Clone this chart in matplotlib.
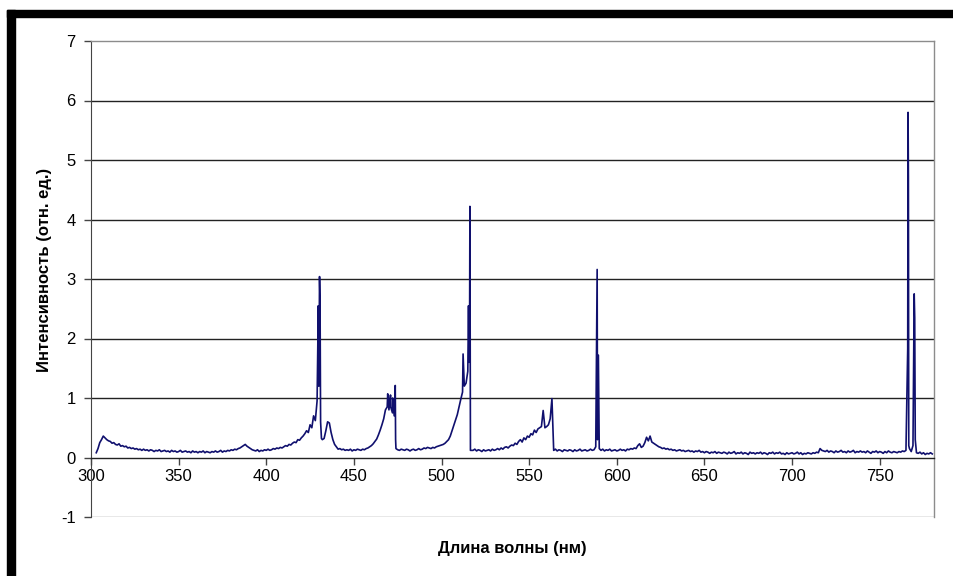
import matplotlib
matplotlib.use("Agg")
import matplotlib.pyplot as plt
import numpy as np
from matplotlib.patches import Rectangle

# Spectrum, one value per nm starting at 303 nm.
GRID_START = 303
grid_intensity = [
    0.08, 0.15, 0.25, 0.30, 0.36, 0.33, 0.30, 0.28, 0.27, 0.24,  # 303
    0.25, 0.22, 0.21, 0.23, 0.19, 0.20, 0.18, 0.19, 0.16, 0.17,  # 313
    0.15, 0.16, 0.14, 0.15, 0.13, 0.14, 0.12, 0.14, 0.12, 0.13,  # 323
    0.11, 0.13, 0.12, 0.10, 0.12, 0.11, 0.13, 0.10, 0.11, 0.12,  # 333
    0.10, 0.11, 0.09, 0.12, 0.10, 0.11, 0.09, 0.10, 0.12, 0.09,  # 343
    0.10, 0.11, 0.09, 0.10, 0.08, 0.11, 0.09, 0.10, 0.08, 0.10,  # 353
    0.09, 0.11, 0.08, 0.10, 0.09, 0.08, 0.10, 0.09, 0.11, 0.09,  # 363
    0.10, 0.12, 0.09, 0.11, 0.10, 0.12, 0.11, 0.13, 0.12, 0.14,  # 373
    0.13, 0.15, 0.16, 0.18, 0.20, 0.22, 0.19, 0.17, 0.15, 0.13,  # 383
    0.12, 0.11, 0.13, 0.10, 0.12, 0.11, 0.13, 0.12, 0.14, 0.12,  # 393
    0.13, 0.15, 0.14, 0.16, 0.15, 0.17, 0.16, 0.18, 0.20, 0.19,  # 403
    0.22, 0.21, 0.24, 0.26, 0.25, 0.30, 0.29, 0.33, 0.36, 0.40,  # 413
    0.45, 0.42, 0.55, 0.50, 0.70, 0.62, 0.95, 1.20, 0.60, 0.30,  # 423
    0.32, 0.45, 0.60, 0.58, 0.42, 0.30, 0.22, 0.18, 0.14, 0.15,  # 433
    0.13, 0.14, 0.12, 0.13, 0.12, 0.14, 0.11, 0.13, 0.12, 0.14,  # 443
    0.13, 0.12, 0.14, 0.13, 0.15, 0.16, 0.18, 0.20, 0.23, 0.27,  # 453
    0.31, 0.38, 0.46, 0.55, 0.65, 0.80, 0.85, 0.80, 0.85, 0.75,  # 463
    0.70, 0.15, 0.13, 0.12, 0.14, 0.13, 0.12, 0.14, 0.13, 0.11,  # 473
    0.13, 0.14, 0.12, 0.13, 0.15, 0.13, 0.14, 0.16, 0.15, 0.17,  # 483
    0.16, 0.15, 0.17, 0.16, 0.18, 0.19, 0.20, 0.21, 0.22, 0.24,  # 493
    0.27, 0.30, 0.36, 0.45, 0.54, 0.63, 0.72, 0.85, 0.98, 1.10,  # 503
    1.20, 1.25, 1.45, 2.00, 0.12, 0.12, 0.14, 0.11, 0.13, 0.12,  # 513
    0.10, 0.13, 0.11, 0.12, 0.13, 0.11, 0.14, 0.12, 0.13, 0.15,  # 523
    0.13, 0.16, 0.14, 0.17, 0.18, 0.16, 0.19, 0.21, 0.20, 0.24,  # 533
    0.22, 0.27, 0.30, 0.26, 0.33, 0.30, 0.36, 0.34, 0.40, 0.38,  # 543
    0.46, 0.42, 0.48, 0.50, 0.52, 0.79, 0.50, 0.52, 0.55, 0.65,  # 553
    0.99, 0.12, 0.14, 0.11, 0.13, 0.12, 0.10, 0.13, 0.12, 0.11,  # 563
    0.13, 0.12, 0.10, 0.13, 0.11, 0.12, 0.14, 0.11, 0.12, 0.13,  # 573
    0.11, 0.12, 0.14, 0.12, 0.13, 0.18, 0.30, 0.15, 0.12, 0.14,  # 583
    0.11, 0.13, 0.12, 0.14, 0.11, 0.12, 0.13, 0.11, 0.12, 0.14,  # 593
    0.12, 0.13, 0.11, 0.14, 0.13, 0.15, 0.14, 0.16, 0.15, 0.20,  # 603
    0.23, 0.17, 0.19, 0.25, 0.34, 0.28, 0.36, 0.26, 0.24, 0.22,  # 613
    0.20, 0.18, 0.17, 0.15, 0.16, 0.14, 0.15, 0.13, 0.14, 0.12,  # 623
    0.13, 0.11, 0.12, 0.13, 0.11, 0.12, 0.10, 0.11, 0.12, 0.10,  # 633
    0.11, 0.09, 0.11, 0.10, 0.12, 0.09, 0.10, 0.08, 0.10, 0.09,  # 643
    0.07, 0.09, 0.08, 0.10, 0.07, 0.09, 0.08, 0.07, 0.09, 0.08,  # 653
    0.06, 0.09, 0.07, 0.08, 0.10, 0.06, 0.08, 0.07, 0.09, 0.06,  # 663
    0.08, 0.07, 0.05, 0.09, 0.07, 0.08, 0.06, 0.08, 0.07, 0.09,  # 673
    0.06, 0.08, 0.07, 0.05, 0.08, 0.07, 0.09, 0.06, 0.08, 0.07,  # 683
    0.09, 0.06, 0.07, 0.05, 0.08, 0.06, 0.07, 0.08, 0.06, 0.07,  # 693
    0.09, 0.06, 0.08, 0.05, 0.07, 0.06, 0.08, 0.07, 0.06, 0.08,  # 703
    0.07, 0.09, 0.08, 0.15, 0.12, 0.11, 0.10, 0.12, 0.09, 0.11,  # 713
    0.10, 0.08, 0.11, 0.09, 0.10, 0.12, 0.09, 0.10, 0.08, 0.11,  # 723
    0.09, 0.10, 0.12, 0.08, 0.10, 0.09, 0.11, 0.09, 0.10, 0.08,  # 733
    0.11, 0.09, 0.07, 0.10, 0.09, 0.11, 0.08, 0.10, 0.09, 0.07,  # 743
    0.10, 0.08, 0.11, 0.09, 0.08, 0.10, 0.09, 0.08, 0.10, 0.09,  # 753
    0.11, 0.10, 0.12, 1.83, 0.15, 0.10, 0.20, 2.35, 0.08, 0.07,  # 763
    0.09, 0.06, 0.08, 0.05, 0.07, 0.06, 0.08, 0.06,              # 773
]

# Sharp emission lines between the 1 nm samples.
line_wl = [429.3, 429.7, 430.4, 430.7, 431.5,
           469.3, 470.9, 472.1, 473.6, 473.8,
           512.3, 515.4, 515.7, 516.2, 516.5,
           588.8, 589.5,
           766.2, 766.4, 766.6,
           769.7, 770.3]
line_int = [1.60, 2.55, 3.04, 2.60, 0.32,
            1.07, 1.05, 1.00, 1.21, 0.30,
            1.74, 2.55, 1.60, 4.22, 0.12,
            3.16, 1.72,
            5.80, 4.70, 0.20,
            2.75, 0.30]

x_ticks = [300, 350, 400, 450, 500, 550, 600, 650, 700, 750]
y_ticks = [-1, 0, 1, 2, 3, 4, 5, 6, 7]

wl = np.concatenate([GRID_START + np.arange(len(grid_intensity)), line_wl])
inten = np.concatenate([grid_intensity, line_int])
order = np.argsort(wl)
wl, inten = wl[order], inten[order]

plt.rcParams["font.family"] = ["Liberation Sans", "DejaVu Sans"]
plt.rcParams["axes.unicode_minus"] = False

fig = plt.figure(figsize=(9.54, 5.76), dpi=100)
ax = fig.add_axes([91 / 954, 1 - 517 / 576, 843 / 954, 476 / 576])

# Black frame on top and left of the picture.
fig.patches.append(Rectangle((7 / 954, 1 - 17 / 576), 1, 7 / 576,
                             transform=fig.transFigure, color="black", zorder=0))
fig.patches.append(Rectangle((7 / 954, 0), 8 / 954, 1 - 10 / 576,
                             transform=fig.transFigure, color="black", zorder=0))

ax.set_xlim(300, 781)
ax.set_ylim(-1, 7)

for y in range(1, 7):
    ax.axhline(y, color="#222222", lw=1.0, zorder=1)

ax.plot(wl, inten, color="#10106e", lw=1.2, zorder=3)

for side in ["top", "right"]:
    ax.spines[side].set_color("#8c8c8c")
    ax.spines[side].set_linewidth(1.0)
ax.spines["left"].set_color("#444444")
ax.spines["bottom"].set_position(("data", 0))
ax.spines["bottom"].set_color("#222222")
ax.spines["bottom"].set_linewidth(1.0)
ax.axhline(-1, color="#8c8c8c", lw=1.0, zorder=1)

ax.set_xticks(x_ticks)
ax.set_yticks(y_ticks)
ax.tick_params(axis="x", direction="out", length=5, width=1, color="#444444",
               labelsize=12, pad=3)
ax.tick_params(axis="y", direction="out", length=5, width=1, color="#444444",
               labelsize=12, pad=6)

fig.text(512 / 954, 1 - 549 / 576, "Длина волны (нм)", ha="center", va="center",
         fontsize=12, fontweight="bold")
fig.text(45 / 954, 1 - 270 / 576, "Интенсивность (отн. ед.)", ha="center", va="center",
         rotation=90, fontsize=12, fontweight="bold")

fig.savefig("out.png", dpi=100)
